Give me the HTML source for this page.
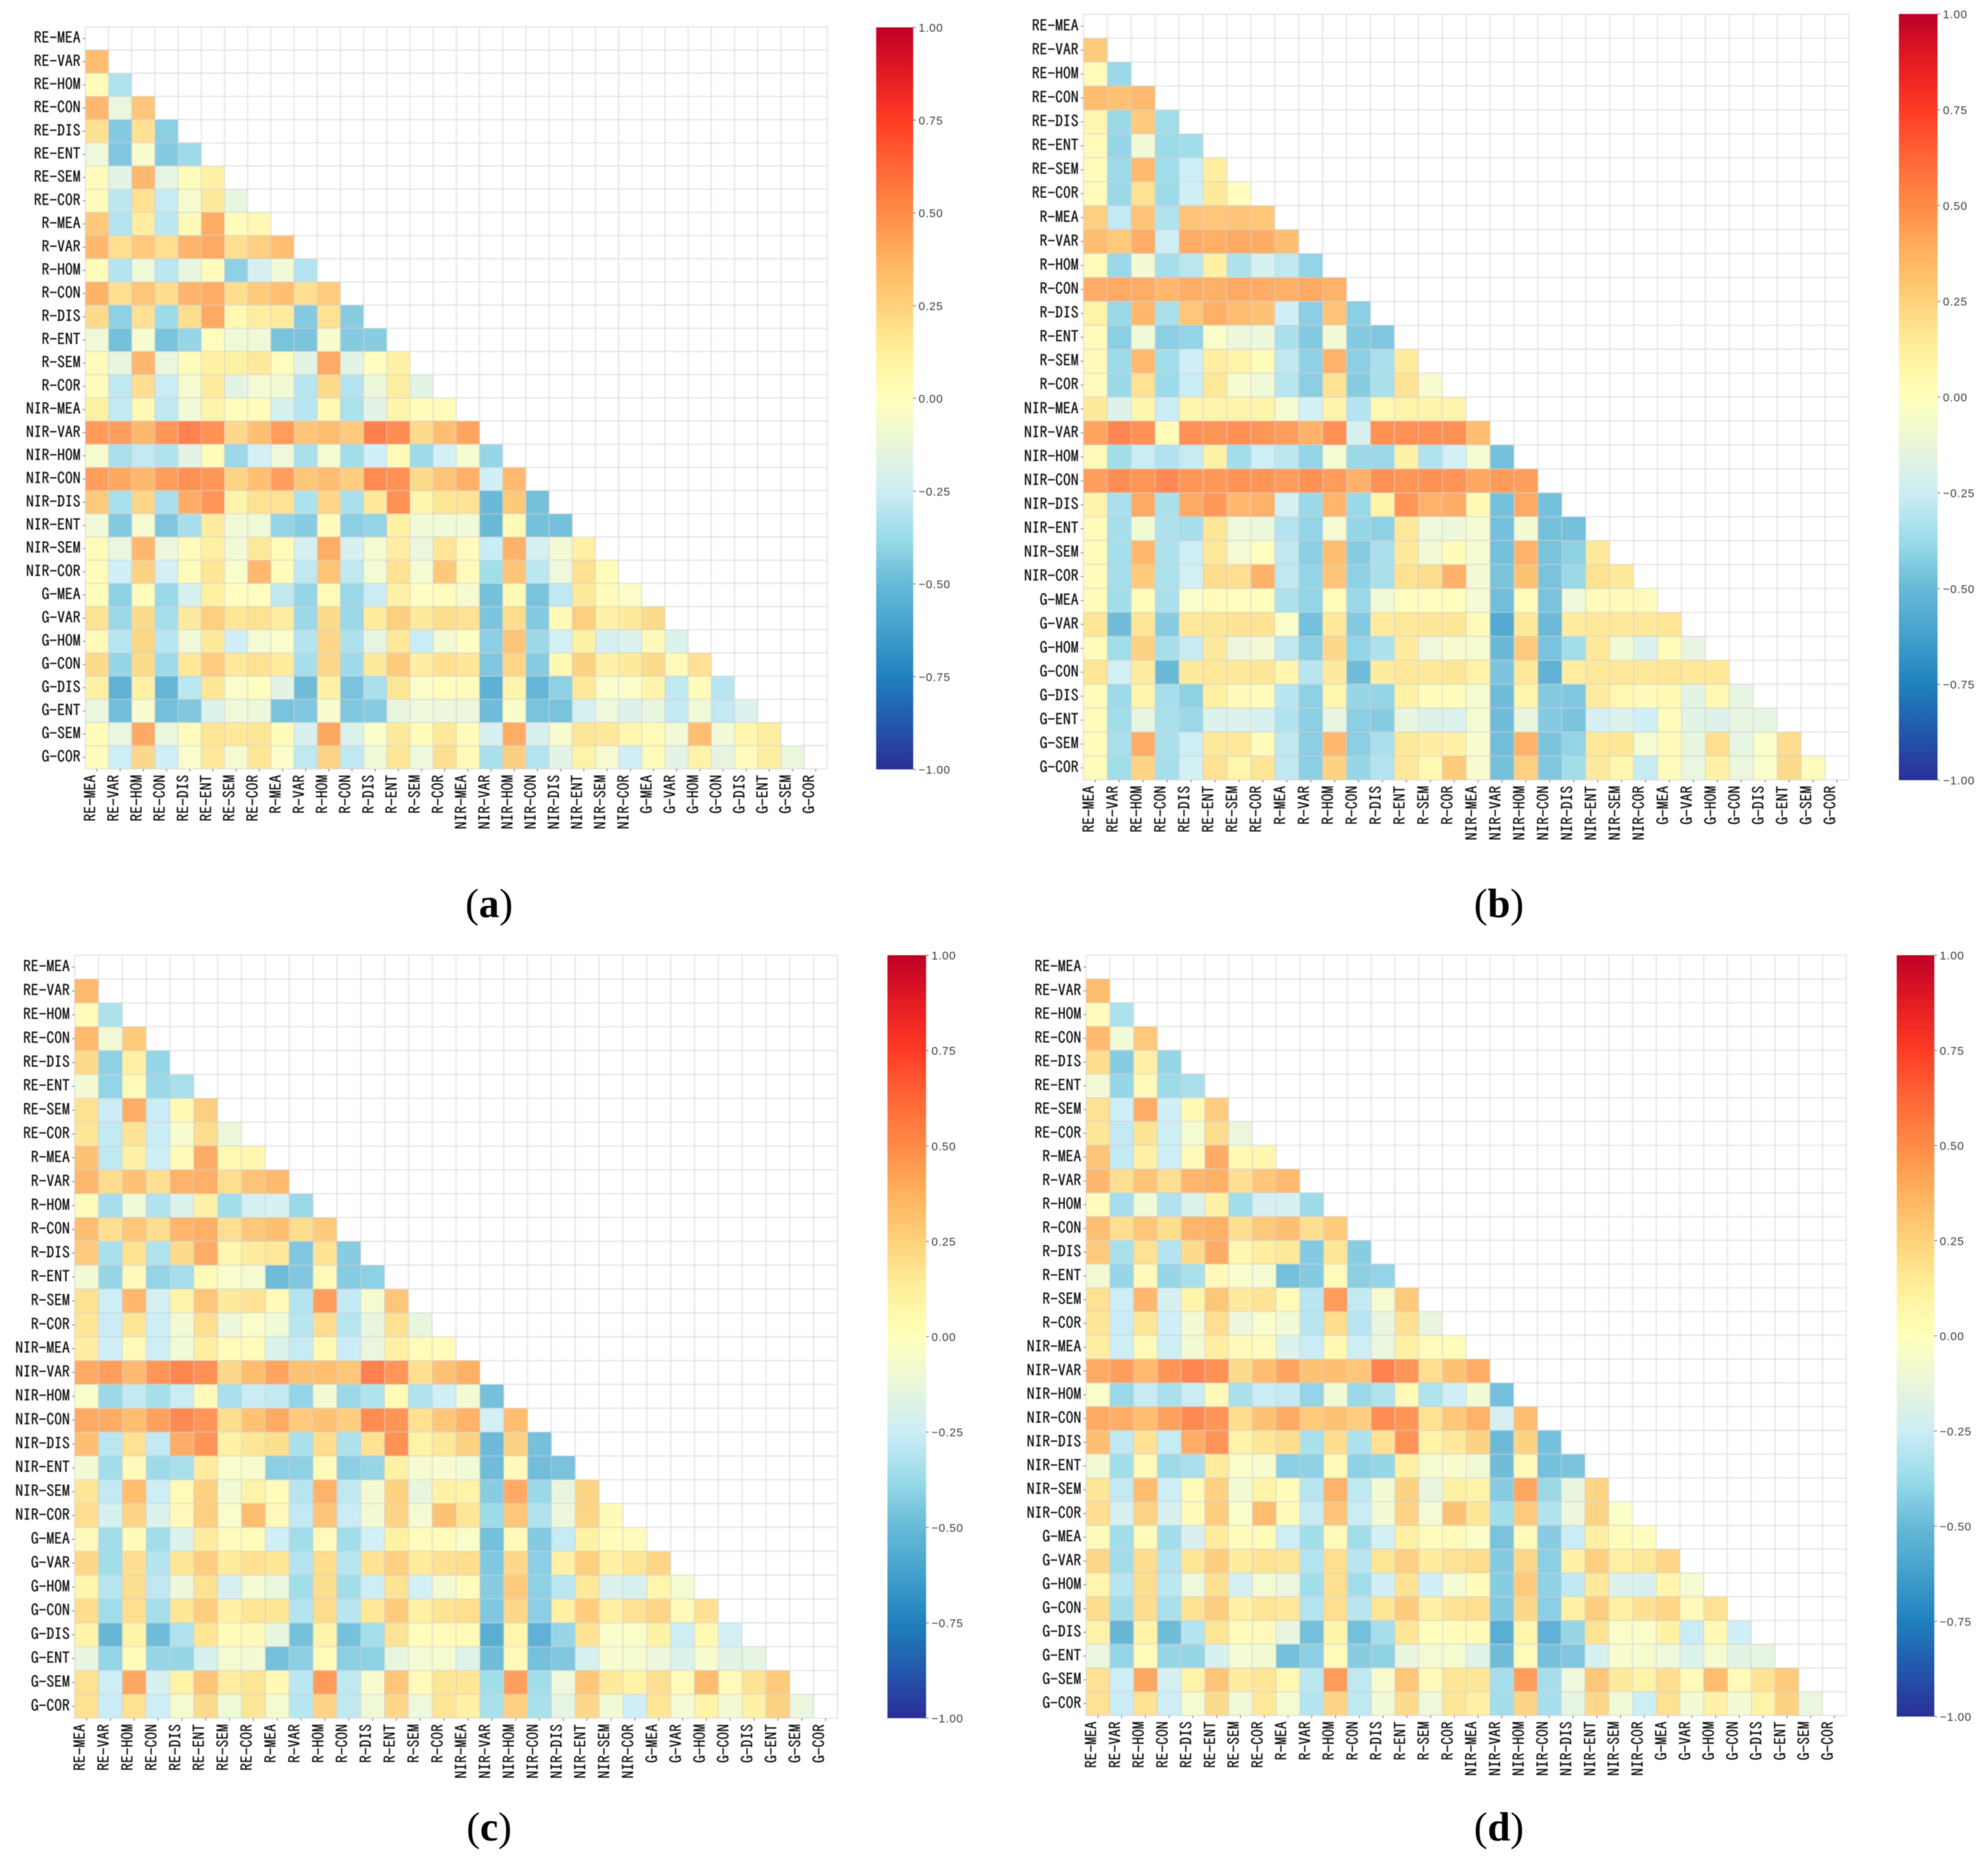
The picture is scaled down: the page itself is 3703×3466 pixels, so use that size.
<!DOCTYPE html>
<html lang="en">
<head>
<meta charset="utf-8">
<title>Correlation heatmaps (a)-(d)</title>
<style>
html,body{margin:0;padding:0;background:#fff;}
#figure{display:block;width:3703px;height:3466px;filter:blur(0.9px);}
.axis-label{font-family:"IPAGothic","Liberation Sans",sans-serif;font-size:29px;fill:#161616;stroke:#161616;stroke-width:0.4px;}
.cbar-label{font-family:"Liberation Sans",sans-serif;font-size:21.5px;letter-spacing:1px;fill:#3c3c3c;}
.panel-label{font-family:"Liberation Serif",serif;font-size:76px;fill:#000;}
</style>
</head>
<body>
<svg id="figure" xmlns="http://www.w3.org/2000/svg" width="3703" height="3466" viewBox="0 0 3703 3466">
  <rect x="0" y="0" width="3703" height="3466" fill="#ffffff"></rect>
  <text class="panel-label" x="911" y="1708" text-anchor="middle">(<tspan font-weight="bold">a</tspan>)</text>
  <text class="panel-label" x="2792" y="1708" text-anchor="middle">(<tspan font-weight="bold">b</tspan>)</text>
  <text class="panel-label" x="911" y="3428" text-anchor="middle">(<tspan font-weight="bold">c</tspan>)</text>
  <text class="panel-label" x="2792" y="3428" text-anchor="middle">(<tspan font-weight="bold">d</tspan>)</text>
</svg>
<script>
const featureLabels = ["RE-MEA","RE-VAR","RE-HOM","RE-CON","RE-DIS","RE-ENT","RE-SEM","RE-COR","R-MEA","R-VAR","R-HOM","R-CON","R-DIS","R-ENT","R-SEM","R-COR","NIR-MEA","NIR-VAR","NIR-HOM","NIR-CON","NIR-DIS","NIR-ENT","NIR-SEM","NIR-COR","G-MEA","G-VAR","G-HOM","G-CON","G-DIS","G-ENT","G-SEM","G-COR"];
const colorbarTicks = [1,0.75,0.5,0.25,0,-0.25,-0.5,-0.75,-1];
const colormapValues = [-1,-0.875,-0.75,-0.625,-0.5,-0.375,-0.25,-0.125,0,0.125,0.25,0.375,0.5,0.625,0.75,0.875,1];
const colormapColors = ["#2c2f97","#2257ab","#2080bd","#42a0cc","#66b9d7","#9adbe9","#ccedf5","#e9f6d9","#ffffbc","#fff09b","#fdd27a","#ffb25e","#ff8b45","#ff6636","#ff3b25","#e31b22","#bd0026"];

// Lower-triangle correlation values x 100; row i holds columns 0..i-1.
const panelAValues = [
[],
[36],
[3,-34],
[38,-13,32],
[20,-46,20,-44],
[-11,-47,-5,-46,-39],
[3,-17,38,-15,3,12],
[3,-31,20,-28,-6,16,-14],
[31,-33,14,-31,5,42,3,7],
[38,21,31,21,39,43,21,28,35],
[3,-33,-10,-31,-14,3,-43,-23,-9,-33],
[40,21,32,22,39,42,22,30,35,21,29],
[23,-43,20,-39,22,43,6,14,15,-46,20,-45],
[-10,-50,-6,-49,-41,2,-10,-10,-49,-48,-5,-46,-45],
[3,-14,38,-13,3,12,13,17,2,-16,43,-17,1,12],
[3,-30,21,-27,-6,15,-16,-7,-8,-32,23,-33,-12,14,-17],
[13,-29,6,-30,-9,10,2,3,-22,-32,6,-35,-16,10,3,3],
[48,47,38,50,58,52,24,35,48,33,35,30,58,54,23,35,45],
[-5,-36,-29,-34,-16,3,-40,-24,-10,-36,-6,-38,-25,5,-39,-24,-6,-41],
[47,44,38,47,52,50,26,35,47,32,35,29,54,52,23,33,41,-25,37],
[31,-36,25,-36,42,50,10,20,20,-35,25,-36,17,52,9,18,19,-54,31,-50],
[-9,-46,-6,-47,-37,15,-9,-10,-42,-45,3,-44,-42,13,-9,-9,-9,-54,5,-50,-50],
[3,-13,38,-12,3,13,-9,17,3,-23,42,-22,-6,14,-13,18,3,-27,40,-23,-8,13],
[3,-25,27,-24,3,18,-4,38,3,-30,33,-30,-7,19,-7,31,4,-38,33,-31,-11,20,3],
[3,-43,3,-40,-22,13,1,2,-30,-41,5,-40,-27,13,-1,2,-6,-50,5,-49,-30,16,3,-3],
[19,-40,23,-37,16,28,18,20,14,-40,23,-40,15,28,16,22,20,-48,22,-46,5,28,12,16,23],
[4,-32,25,-32,-10,17,-25,-7,-4,-33,24,-35,-15,17,-27,-8,-1,-44,33,-40,-24,13,-23,-20,4,-20],
[23,-41,23,-39,17,29,17,20,15,-37,24,-39,16,30,14,20,18,-47,25,-45,7,27,12,16,23,4,20],
[12,-58,12,-56,-31,18,-3,2,-16,-52,12,-49,-36,18,-3,2,3,-59,10,-56,-43,17,-4,-3,10,-30,3,-32],
[-13,-51,-5,-50,-47,-20,-10,-12,-49,-47,-5,-47,-45,-14,-11,-12,-12,-52,-3,-49,-49,-23,-11,-19,-14,-29,-10,-29,-20],
[3,-13,43,-13,3,18,17,18,3,-22,44,-20,-4,16,3,17,3,-22,42,-21,-5,18,17,8,5,-9,35,-9,9,14],
[3,-26,24,-25,-4,17,-7,18,-3,-30,26,-30,-10,18,-11,21,4,-36,28,-33,-16,11,-6,-25,3,-16,11,-15,4,14,-13]
];

const panelBValues = [
[],
[30],
[3,-40],
[36,34,37],
[8,-40,30,-38],
[4,-41,-9,-39,-38],
[3,-39,37,-38,-26,14],
[3,-40,20,-39,-25,16,2],
[28,-29,33,-34,33,32,33,32],
[36,31,42,-26,42,41,43,42,35],
[3,-40,-8,-37,-31,13,-35,-22,-30,-42],
[42,43,42,38,42,41,43,42,41,43,40],
[11,-40,38,-36,32,41,36,34,-25,-44,33,-44],
[3,-44,-10,-44,-42,-3,-12,-12,-36,-46,-8,-46,-47],
[4,-39,37,-38,-25,14,11,3,-30,-43,40,-44,-36,15],
[3,-40,20,-39,-27,17,-5,-10,-32,-44,19,-45,-36,19,-5],
[16,-19,9,-27,9,10,10,10,-6,-24,10,-33,7,11,10,10],
[45,56,52,3,52,50,52,50,47,40,52,-22,52,52,52,52,36],
[4,-38,-27,-34,-28,13,-38,-26,-31,-42,-7,-40,-40,12,-34,-24,-7,-50],
[47,53,50,55,50,49,51,50,48,52,48,40,52,50,52,50,44,48,47],
[10,-36,43,-36,43,49,38,40,-23,-40,39,-40,11,50,40,42,6,-50,43,-50],
[3,-37,-8,-35,-37,18,-11,-12,-33,-42,-7,-41,-43,17,-11,-12,-7,-50,-8,-50,-50],
[3,-37,38,-35,-26,17,-7,2,-30,-44,36,-45,-36,16,-8,3,-6,-50,40,-49,-43,16],
[3,-37,30,-35,-24,22,21,40,-30,-42,33,-43,-36,20,22,40,-8,-49,34,-49,-40,19,16],
[3,-38,3,-36,-4,3,2,2,-35,-42,3,-40,-9,2,2,2,-7,-51,3,-49,-11,4,4,4],
[18,-52,18,-45,17,18,19,19,-3,-50,17,-46,15,17,18,18,4,-62,17,-53,15,17,17,17,18],
[3,-38,27,-37,-28,16,-12,-8,-30,-44,24,-42,-35,15,-11,-5,-6,-54,30,-49,-38,17,-8,-20,3,-14],
[18,-24,15,-54,16,17,17,18,9,-32,16,-52,15,17,17,18,11,-48,17,-58,14,17,17,17,18,17,17],
[3,-39,9,-37,-43,13,4,3,-32,-43,8,-41,-42,12,3,3,-6,-52,9,-46,-47,15,7,4,6,-16,7,-15],
[3,-38,-15,-36,-40,-20,-20,-22,-34,-44,-14,-44,-45,-14,-19,-20,-7,-52,-14,-46,-48,-23,-20,-25,3,-17,-19,-15,-15],
[3,-36,42,-36,-26,17,17,3,-30,-44,38,-44,-36,17,14,12,-5,-51,40,-48,-42,17,18,-7,5,-14,21,-15,-3,22],
[3,-38,26,-37,-24,20,9,18,-30,-44,27,-41,-33,17,6,30,-5,-50,28,-47,-38,16,8,-28,3,-13,12,-13,-3,23,3]
];

const panelCValues = [
[],
[37],
[3,-35],
[37,-9,30],
[23,-43,13,-41],
[-8,-42,4,-40,-36],
[20,-27,42,-27,6,28],
[18,-29,19,-27,-5,22,-12],
[34,-30,12,-26,5,42,6,8],
[38,22,34,21,40,41,21,33,37],
[3,-37,-9,-34,-20,12,-38,-23,-22,-40],
[35,21,32,22,39,41,21,32,35,22,30],
[30,-36,20,-34,23,42,8,15,17,-47,19,-45],
[-8,-41,4,-42,-37,4,-4,-7,-52,-47,4,-45,-43],
[20,-26,38,-23,10,32,16,19,5,-33,47,-29,-6,32],
[18,-27,18,-26,-8,21,-12,-3,-9,-32,22,-32,-14,20,-14],
[14,-25,5,-26,-9,14,3,3,-20,-28,6,-27,-13,13,3,3],
[43,47,37,50,56,52,24,36,45,34,35,32,58,50,21,34,41],
[-4,-40,-29,-37,-27,4,-36,-27,-29,-42,-8,-40,-34,5,-34,-25,-8,-50],
[43,42,36,46,55,50,22,34,43,31,34,29,54,50,20,32,40,-24,36],
[35,-31,20,-29,42,51,12,18,22,-36,22,-35,20,52,11,17,27,-53,27,-50],
[-8,-38,4,-39,-36,15,-4,-5,-44,-43,4,-44,-41,13,-6,-5,-9,-52,4,-51,-49],
[18,-29,36,-26,5,27,-8,11,3,-32,40,-30,-8,27,-14,12,11,-45,43,-40,-14,26],
[21,-22,26,-20,4,28,-4,36,4,-29,33,-27,-8,26,-7,34,18,-39,32,-34,-12,25,4],
[4,-38,5,-38,-20,15,3,3,-25,-38,4,-38,-24,13,3,3,-3,-50,5,-46,-28,13,3,3],
[24,-38,21,-33,18,29,15,20,18,-33,22,-32,19,28,15,20,22,-47,24,-44,12,28,13,18,25],
[9,-32,22,-30,-12,20,-23,-7,-13,-38,22,-38,-26,19,-24,-8,3,-45,30,-43,-31,17,-20,-21,9,-7],
[22,-38,21,-37,18,29,12,18,18,-33,22,-32,17,30,13,19,21,-47,24,-44,13,29,13,20,25,4,20],
[11,-55,11,-52,-34,18,3,4,-14,-50,10,-50,-37,19,2,3,5,-60,9,-58,-41,19,-3,-3,12,-26,6,-24],
[-14,-42,3,-41,-41,-22,-7,-8,-50,-44,3,-44,-43,-14,-7,-6,-18,-52,4,-50,-47,-22,-5,-6,-12,-20,-5,-16,-15],
[20,-26,44,-22,11,33,14,18,6,-31,48,-30,-5,32,4,18,18,-38,47,-38,-11,32,16,11,21,5,36,4,19,30],
[20,-27,20,-26,-6,23,-10,18,-6,-32,26,-30,-10,24,-11,18,12,-36,28,-36,-15,24,-9,-25,18,-7,11,-8,12,27,-13]
];

const panelDValues = [
[],
[36],
[3,-35],
[37,-9,31],
[22,-45,13,-41],
[-8,-41,4,-39,-36],
[20,-26,42,-25,6,29],
[18,-29,19,-26,-7,22,-13],
[33,-29,12,-26,5,42,6,8],
[38,21,33,21,39,41,21,32,37],
[3,-37,-9,-34,-20,12,-38,-23,-22,-39],
[35,21,32,22,39,41,21,31,35,21,30],
[30,-36,20,-33,23,42,8,14,17,-46,18,-45],
[-8,-41,4,-41,-36,4,-4,-7,-50,-46,4,-44,-42],
[20,-26,38,-23,10,32,16,19,5,-32,48,-29,-6,31],
[18,-27,18,-25,-8,21,-12,-4,-9,-32,22,-32,-14,20,-14],
[14,-26,5,-26,-8,14,4,3,-20,-27,6,-26,-13,13,3,3],
[43,47,37,50,56,52,23,36,45,34,35,32,58,50,21,34,42],
[-4,-40,-28,-36,-27,4,-36,-27,-29,-42,-8,-40,-34,5,-34,-25,-8,-50],
[43,42,36,46,55,50,22,34,43,31,34,29,54,50,20,32,40,-23,36],
[35,-30,20,-28,42,51,11,18,22,-36,22,-35,20,51,11,17,27,-53,27,-50],
[-8,-38,4,-39,-36,15,-4,-5,-44,-43,4,-43,-41,13,-6,-5,-9,-52,4,-50,-48],
[18,-29,36,-26,5,27,-8,11,3,-32,40,-30,-8,27,-14,13,11,-45,44,-40,-14,26],
[21,-22,26,-21,4,29,-4,36,4,-28,33,-27,-8,26,-7,34,18,-38,31,-34,-12,26,-2],
[4,-38,5,-38,-21,15,3,3,-26,-38,4,-38,-24,13,3,4,-3,-49,4,-45,-27,14,3,2],
[25,-38,22,-33,18,29,15,19,18,-33,21,-32,18,28,15,20,22,-46,24,-44,12,28,13,17,25],
[9,-32,22,-31,-11,20,-23,-7,-13,-38,21,-38,-25,19,-25,-7,3,-45,30,-43,-30,17,-20,-21,9,-7],
[22,-38,22,-36,19,29,12,18,17,-33,21,-32,18,30,13,19,21,-46,24,-44,13,29,13,20,25,4,20],
[11,-55,11,-52,-33,18,3,4,-14,-50,10,-50,-37,18,2,3,5,-60,9,-58,-41,19,-3,-3,12,-27,6,-25],
[-13,-42,3,-41,-41,-22,-7,-8,-50,-44,3,-45,-43,-14,-7,-6,-18,-52,3,-50,-47,-22,-5,-6,-11,-20,-6,-16,-15],
[20,-26,44,-23,11,33,15,18,6,-31,48,-30,-5,32,4,18,18,-37,47,-37,-11,32,16,11,21,5,36,4,19,30],
[20,-27,20,-26,-6,23,-10,17,-6,-33,26,-30,-9,23,-11,18,13,-38,26,-37,-15,24,-9,-26,20,-8,12,-8,11,27,-13]
];

const SVG_NS = "http://www.w3.org/2000/svg";
const figure = document.getElementById("figure");
const cellOpacity = 0.9;

function svgEl(tag, attrs, parent) {
  const el = document.createElementNS(SVG_NS, tag);
  for (const k in attrs) el.setAttribute(k, attrs[k]);
  parent.appendChild(el);
  return el;
}
function hexToRgb(h) {
  return [parseInt(h.slice(1,3),16), parseInt(h.slice(3,5),16), parseInt(h.slice(5,7),16)];
}
function colorScale(v) {
  const clamped = Math.max(-1, Math.min(1, v));
  let i = 0;
  while (i < colormapValues.length - 2 && clamped > colormapValues[i+1]) i++;
  const t = (clamped - colormapValues[i]) / (colormapValues[i+1] - colormapValues[i]);
  const a = hexToRgb(colormapColors[i]);
  const b = hexToRgb(colormapColors[i+1]);
  return "rgb(" + a.map((c, k) => Math.round(c + (b[k] - c) * t)).join(",") + ")";
}
function slug(s) { return s.toLowerCase(); }
function formatTick(t) { return t.toFixed(2).replace("-", "\u2212"); }

const gradientDefs = svgEl("defs", {}, figure);
const gradient = svgEl("linearGradient", {id:"colormap-gradient", x1:"0", y1:"1", x2:"0", y2:"0"}, gradientDefs);
colormapValues.forEach((v, i) => {
  svgEl("stop", {offset:(v + 1) / 2, "stop-color":colormapColors[i]}, gradient);
});

function drawPanel(id, values, box, bar) {
  const n = featureLabels.length;
  const cell = box.size / n;
  const xScale = col => box.x + col * cell;
  const yScale = row => box.y + row * cell;
  const barY = v => bar.y + (1 - v) / 2 * bar.h;

  const group = svgEl("g", {}, figure);
  
  

  values.forEach((rowValues, r) => {
    rowValues.forEach((v, c) => {
      const rect = svgEl("rect", {x:xScale(c), y:yScale(r), width:cell, height:cell, fill:colorScale(v / 100), "fill-opacity":cellOpacity}, group);
      
      
    });
  });

  for (let i = 0; i <= n; i++) {
    const hLine = svgEl("line", {x1:box.x, x2:box.x + box.size, y1:yScale(i), y2:yScale(i), stroke:"#cfcfcf", "stroke-opacity":"0.5", "stroke-width":"2.4"}, group);
    
    
    const vLine = svgEl("line", {y1:box.y, y2:box.y + box.size, x1:xScale(i), x2:xScale(i), stroke:"#cfcfcf", "stroke-opacity":"0.5", "stroke-width":"2.4"}, group);
    
    
  }

  featureLabels.forEach((label, i) => {
    const cy = yScale(i) + cell / 2;
    const cx = xScale(i) + cell / 2;

    const yTick = svgEl("line", {x1:box.x - 5, x2:box.x, y1:cy, y2:cy, stroke:"#8a8a8a", "stroke-width":"1.6"}, group);
    
    

    const yText = svgEl("text", {class:"axis-label", x:box.x - 9, y:cy + 9, "text-anchor":"end"}, group);
    yText.textContent = label;
    
    

    const xTick = svgEl("line", {x1:cx, x2:cx, y1:box.y + box.size, y2:box.y + box.size + 5, stroke:"#8a8a8a", "stroke-width":"1.6"}, group);
    
    

    const tx = cx - 2;
    const ty = box.y + box.size + 11;
    const xText = svgEl("text", {class:"axis-label", x:tx, y:ty, "text-anchor":"end", transform:"rotate(-90 " + tx + " " + ty + ")"}, group);
    xText.textContent = label;
    
    
  });

  const barRect = svgEl("rect", {x:bar.x, y:bar.y, width:bar.w, height:bar.h, fill:"url(#colormap-gradient)"}, group);
  
  

  colorbarTicks.forEach(t => {
    const y = barY(t);
    const tick = svgEl("line", {x1:bar.x + bar.w, x2:bar.x + bar.w + 5, y1:y, y2:y, stroke:"#7a7a7a", "stroke-width":"1.6"}, group);
    
    
    const label = svgEl("text", {class:"cbar-label", x:bar.x + bar.w + 10, y:y + 8}, group);
    label.textContent = formatTick(t);
    
    
  });
}

drawPanel("a", panelAValues, {x:159, y:50, size:1382}, {x:1632, y:51, w:69, h:1382});
drawPanel("b", panelBValues, {x:2018, y:26.5, size:1426}, {x:3537, y:26, w:72, h:1427});
drawPanel("c", panelCValues, {x:139, y:1779, size:1421}, {x:1653, y:1779, w:72, h:1421});
drawPanel("d", panelDValues, {x:2023, y:1779, size:1416}, {x:3533, y:1779, w:70, h:1418});
</script>
</body>
</html>
